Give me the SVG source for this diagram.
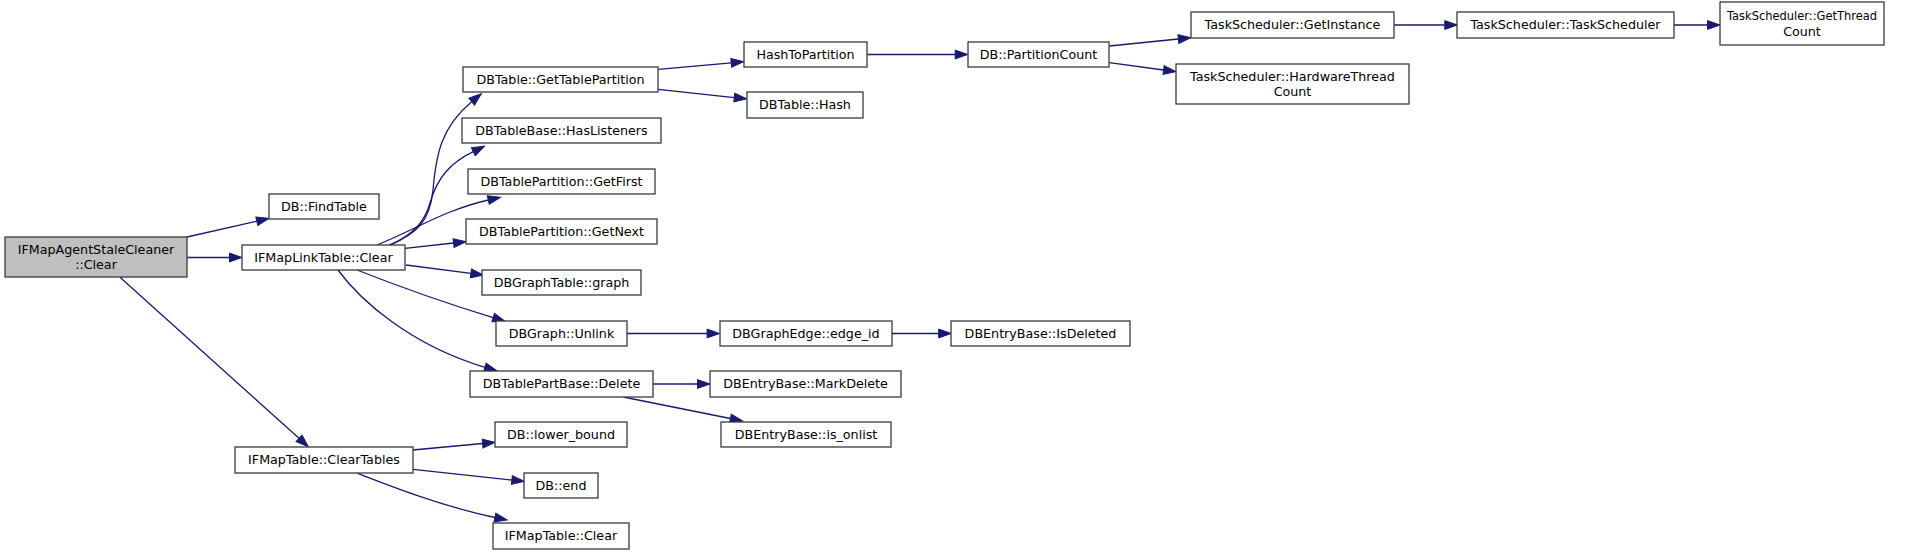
<svg xmlns="http://www.w3.org/2000/svg" width="1917" height="555" viewBox="0 0 1917 555">
<defs>
<style>
.n rect{fill:#ffffff;stroke:#3a3a3a;stroke-width:1.3}
.n.root rect{fill:#bfbfbf}
.n text{font-family:"DejaVu Sans",sans-serif;font-size:12.7px;fill:#000000;text-anchor:middle}
.e path{fill:none;stroke:#191970;stroke-width:1.3;marker-end:url(#arr)}
</style>
<marker id="arr" markerUnits="userSpaceOnUse" markerWidth="14" markerHeight="10" refX="0" refY="0" orient="auto" overflow="visible">
<path d="M0,-4.4 L12.5,0 L0,4.4 Z" fill="#191970" stroke="#191970" stroke-width="1"/>
</marker>
</defs>
<rect x="0" y="0" width="1917" height="555" fill="#ffffff"/>
<g id="edges" class="e">
<path d="M187,237 L256.8,221.2"/>
<path d="M187,257.5 L229.5,257.5"/>
<path d="M120,277.3 L299,438.3"/>
<path d="M389,245 C418,234 430,220 433,190 C436,155 441,127 471.7,101.7"/>
<path d="M391,245 C415,233 425,221 430,203 C437,178 450,163 473.3,151.7"/>
<path d="M377,245 C400,236 425,222 450,212 C463,207 475,203 488.3,200"/>
<path d="M405,248.3 L453.6,243"/>
<path d="M406,265 L470.9,273.4"/>
<path d="M357,270 C390,283 445,303 493.2,317.6"/>
<path d="M338,270 C360,300 410,345 484.9,367.3"/>
<path d="M412.7,450 L482.6,443.5"/>
<path d="M413,469.3 L511.9,480"/>
<path d="M356.7,473 C385,484 440,506 494.9,517.5"/>
<path d="M658.3,69.3 L731.2,62.8"/>
<path d="M658.3,89.3 L734.3,97.6"/>
<path d="M866.7,54.5 L955.2,54.5"/>
<path d="M1109.3,46 L1178.4,39"/>
<path d="M1109.3,62.7 L1163.6,70"/>
<path d="M1394.3,25 L1444.8,25"/>
<path d="M1673.6,25 L1707.5,25"/>
<path d="M626.7,333.5 L707.1,333.5"/>
<path d="M891.9,333.5 L938.7,333.5"/>
<path d="M652.7,384 L697.5,384"/>
<path d="M623.3,397 L730.4,418.5"/>
</g>
<g id="n_agent_clear" class="n root"><rect x="5" y="237" width="182" height="40"/><text x="96" y="254.2">IFMapAgentStaleCleaner</text><text x="96" y="268.8">::Clear</text></g>
<g id="n_findtable" class="n"><rect x="269" y="194" width="110" height="25"/><text x="324" y="210.9">DB::FindTable</text></g>
<g id="n_linktable_clear" class="n"><rect x="242" y="245" width="163" height="25"/><text x="323.5" y="261.9">IFMapLinkTable::Clear</text></g>
<g id="n_gettablepartition" class="n"><rect x="463" y="67" width="195" height="25"/><text x="560.5" y="83.9">DBTable::GetTablePartition</text></g>
<g id="n_haslisteners" class="n"><rect x="462" y="118" width="199" height="25"/><text x="561.5" y="134.9">DBTableBase::HasListeners</text></g>
<g id="n_getfirst" class="n"><rect x="468" y="169" width="187" height="25"/><text x="561.5" y="185.9">DBTablePartition::GetFirst</text></g>
<g id="n_getnext" class="n"><rect x="466" y="219" width="191" height="25"/><text x="561.5" y="235.9">DBTablePartition::GetNext</text></g>
<g id="n_graph" class="n"><rect x="482" y="270" width="159" height="25"/><text x="561.5" y="286.9">DBGraphTable::graph</text></g>
<g id="n_unlink" class="n"><rect x="496" y="321" width="131" height="25"/><text x="561.5" y="337.9">DBGraph::Unlink</text></g>
<g id="n_delete" class="n"><rect x="470" y="371" width="183" height="26"/><text x="561.5" y="388.4">DBTablePartBase::Delete</text></g>
<g id="n_lower_bound" class="n"><rect x="495" y="422" width="132" height="25"/><text x="561" y="438.9">DB::lower_bound</text></g>
<g id="n_cleartables" class="n"><rect x="235" y="447" width="178" height="26"/><text x="324" y="464.4">IFMapTable::ClearTables</text></g>
<g id="n_end" class="n"><rect x="524" y="473" width="74" height="25"/><text x="561" y="489.9">DB::end</text></g>
<g id="n_iftable_clear" class="n"><rect x="493" y="523" width="136" height="26"/><text x="561" y="540.4">IFMapTable::Clear</text></g>
<g id="n_hashtopartition" class="n"><rect x="744" y="42" width="123" height="25"/><text x="805.5" y="58.9">HashToPartition</text></g>
<g id="n_hash" class="n"><rect x="747" y="92" width="116" height="26"/><text x="805" y="109.4">DBTable::Hash</text></g>
<g id="n_partitioncount" class="n"><rect x="968" y="42" width="141" height="25"/><text x="1038.5" y="58.9">DB::PartitionCount</text></g>
<g id="n_getinstance" class="n"><rect x="1191" y="12" width="203" height="26"/><text x="1292.5" y="29.4">TaskScheduler::GetInstance</text></g>
<g id="n_taskscheduler" class="n"><rect x="1457" y="12" width="217" height="26"/><text x="1565.5" y="29.4">TaskScheduler::TaskScheduler</text></g>
<g id="n_getthreadcount" class="n"><rect x="1720" y="2" width="164" height="43"/><text x="1802" y="20.2" textLength="150" lengthAdjust="spacingAndGlyphs">TaskScheduler::GetThread</text><text x="1802" y="35.8">Count</text></g>
<g id="n_hwthreadcount" class="n"><rect x="1176" y="64" width="233" height="40"/><text x="1292.5" y="81.2">TaskScheduler::HardwareThread</text><text x="1292.5" y="95.8">Count</text></g>
<g id="n_edge_id" class="n"><rect x="720" y="321" width="172" height="25"/><text x="806" y="337.9">DBGraphEdge::edge_id</text></g>
<g id="n_isdeleted" class="n"><rect x="951" y="321" width="179" height="25"/><text x="1040.5" y="337.9">DBEntryBase::IsDeleted</text></g>
<g id="n_markdelete" class="n"><rect x="710" y="371" width="191" height="26"/><text x="805.5" y="388.4">DBEntryBase::MarkDelete</text></g>
<g id="n_is_onlist" class="n"><rect x="721" y="422" width="170" height="25"/><text x="806" y="438.9">DBEntryBase::is_onlist</text></g>
</svg>
